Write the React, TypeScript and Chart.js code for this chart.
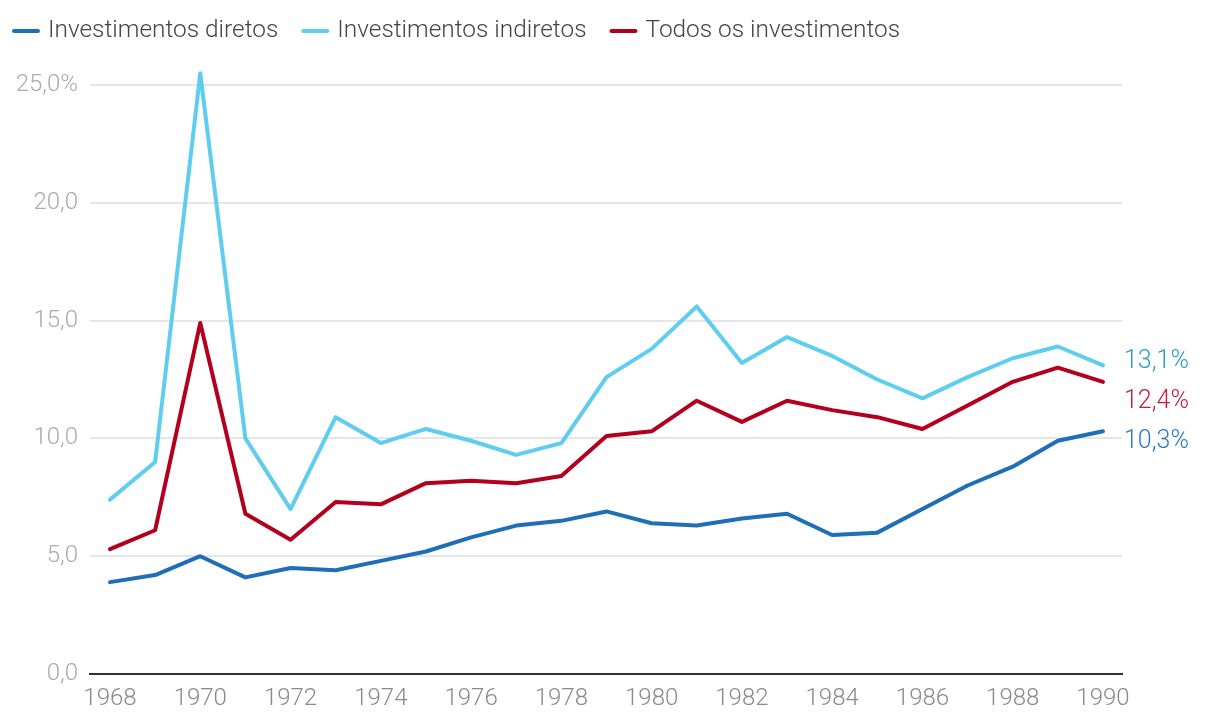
import React, { useEffect, useRef } from "react";
import { Chart, registerables } from "chart.js";

Chart.register(...registerables);

const years = [1968, 1969, 1970, 1971, 1972, 1973, 1974, 1975, 1976, 1977, 1978, 1979, 1980, 1981, 1982, 1983, 1984, 1985, 1986, 1987, 1988, 1989, 1990];
const diretos = [3.9, 4.2, 5.0, 4.1, 4.5, 4.4, 4.8, 5.2, 5.8, 6.3, 6.5, 6.9, 6.4, 6.3, 6.6, 6.8, 5.9, 6.0, 7.0, 8.0, 8.8, 9.9, 10.3];
const indiretos = [7.4, 9.0, 25.5, 10.0, 7.0, 10.9, 9.8, 10.4, 9.9, 9.3, 9.8, 12.6, 13.8, 15.6, 13.2, 14.3, 13.5, 12.5, 11.7, 12.6, 13.4, 13.9, 13.1];
const todos = [5.3, 6.1, 14.9, 6.8, 5.7, 7.3, 7.2, 8.1, 8.2, 8.1, 8.4, 10.1, 10.3, 11.6, 10.7, 11.6, 11.2, 10.9, 10.4, 11.4, 12.4, 13.0, 12.4];
const seriesNames = ["Investimentos diretos", "Investimentos indiretos", "Todos os investimentos"];
const seriesColors = ["#1f6eb8", "#5fcdf0", "#b3001e"];
const endLabelColors = ["#2a7bc4", "#2a9ec4", "#c4203a"];
const xTicks = [1968, 1970, 1972, 1974, 1976, 1978, 1980, 1982, 1984, 1986, 1988, 1990];
const yTicks = [0, 5, 10, 15, 20, 25];

const FONT = "Roboto, 'Open Sans', sans-serif";

const legendPlugin = {
  id: "customLegend",
  afterDraw(chart: any) {
    const ctx = chart.ctx;
    ctx.save();
    ctx.font = `300 24.4px ${FONT}`;
    ctx.textBaseline = "middle";
    let x = 12;
    const y = 31;
    chart.data.datasets.forEach((ds: any) => {
      ctx.strokeStyle = ds.borderColor;
      ctx.lineWidth = 4;
      ctx.lineCap = "round";
      ctx.beginPath();
      ctx.moveTo(x + 2, y);
      ctx.lineTo(x + 26, y);
      ctx.stroke();
      ctx.fillStyle = "#444";
      ctx.textAlign = "left";
      ctx.fillText(ds.label, x + 36, y);
      x += 36 + ctx.measureText(ds.label).width + 23;
    });
    ctx.restore();
  },
};

const endLabelPlugin = {
  id: "endLabels",
  afterDatasetsDraw(chart: any) {
    const ctx = chart.ctx;
    const yScale = chart.scales.y;
    const xScale = chart.scales.x;
    ctx.save();
    ctx.font = `300 25px ${FONT}`;
    ctx.textBaseline = "middle";
    ctx.textAlign = "left";
    const items = chart.data.datasets.map((ds: any, i: number) => {
      const last = ds.data[ds.data.length - 1];
      return { v: last.y, py: yScale.getPixelForValue(last.y), color: endLabelColors[i] };
    });
    items.sort((a: any, b: any) => a.py - b.py);
    let prev = -Infinity;
    items.forEach((it: any, idx: number) => {
      const yy = idx === 0 ? it.py - 4 : Math.max(it.py, prev + 40);
      prev = yy;
      ctx.fillStyle = it.color;
      const txt = it.v.toFixed(1).replace(".", ",") + "%";
      ctx.fillText(txt, xScale.right + 2, yy);
    });
    ctx.restore();
  },
};

export default function App() {
  const ref = useRef<HTMLCanvasElement>(null);
  useEffect(() => {
    if (!ref.current) return;
    const mk = (vals: number[]) => years.map((yr, i) => ({ x: yr, y: vals[i] }));
    const all = [diretos, indiretos, todos];
    const chart = new Chart(ref.current, {
      type: "line",
      data: {
        datasets: all.map((vals, i) => ({
          label: seriesNames[i],
          data: mk(vals),
          borderColor: seriesColors[i],
          backgroundColor: seriesColors[i],
          borderWidth: 4,
          pointRadius: 0,
          tension: 0,
          borderCapStyle: "round",
          borderJoinStyle: "round",
          fill: false,
        })),
      },
      options: {
        animation: false,
        responsive: false,
        maintainAspectRatio: false,
        layout: { padding: { left: 0, top: 61.4, right: 98, bottom: 0 } },
        plugins: { legend: { display: false }, tooltip: { enabled: false } },
        scales: {
          x: {
            type: "linear",
            min: 1967.557,
            max: 1990.421,
            afterBuildTicks: (scale: any) => {
              scale.ticks = xTicks.map((v) => ({ value: v }));
            },
            afterFit: (scale: any) => {
              scale.height = 54;
            },
            grid: { display: false, drawTicks: false },
            border: { display: true, color: "#333", width: 2 },
            ticks: {
              padding: 11,
              color: "#8a8a8a",
              font: { family: FONT, size: 24, weight: "300" },
              maxRotation: 0,
              autoSkip: false,
              callback: (v: any) => String(v),
            },
          },
          y: {
            type: "linear",
            min: 0,
            max: 26,
            afterBuildTicks: (scale: any) => {
              scale.ticks = yTicks.map((v) => ({ value: v }));
            },
            afterFit: (scale: any) => {
              scale.width = 90;
            },
            grid: { color: "#e6e6e6", lineWidth: 2, drawTicks: false },
            border: { display: false },
            ticks: {
              padding: 12,
              color: "#ababab",
              font: { family: FONT, size: 24, weight: "300" },
              callback: (v: any) => (v === 25 ? "25,0%" : Number(v).toFixed(1).replace(".", ",")),
            },
          },
        },
      },
      plugins: [legendPlugin, endLabelPlugin],
    } as any);
    return () => chart.destroy();
  }, []);
  return (
    <div style={{ position: "fixed", left: 0, top: 0, width: 1220, height: 728, background: "#fff" }}>
      <canvas ref={ref} width={1220} height={728} />
    </div>
  );
}
